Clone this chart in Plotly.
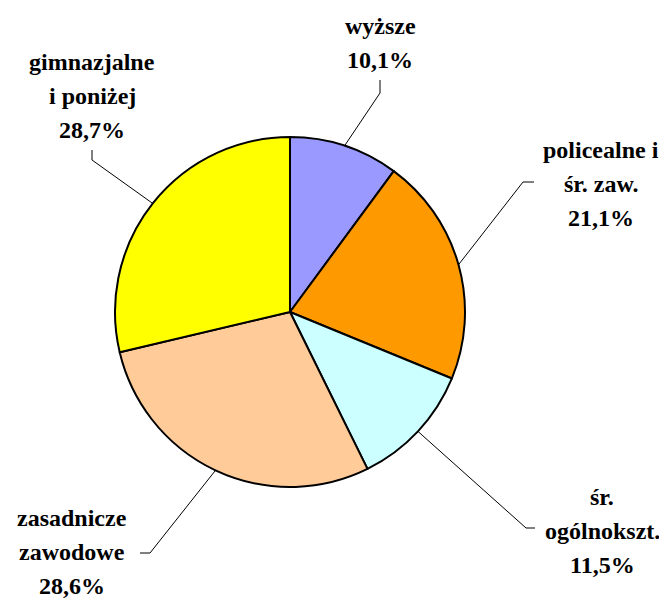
import math
import plotly.graph_objects as go

# Data
categories = ["wyższe", "policealne i śr. zaw.", "śr. ogólnokszt.", "zasadnicze zawodowe", "gimnazjalne i poniżej"]
values = [10.1, 21.1, 11.5, 28.6, 28.7]
label_lines = [
    ["wyższe"],
    ["policealne i", "śr. zaw."],
    ["śr.", "ogólnokszt."],
    ["zasadnicze", "zawodowe"],
    ["gimnazjalne", "i poniżej"],
]
colors = ["#9999FF", "#FF9900", "#CCFFFF", "#FFCC99", "#FFFF00"]

# The page body has an 8px margin; work in window pixels and convert.
OFF = 8
W, H = 667 - OFF, 599 - OFF
CX, CY, R = 290, 312, 175

def px(x):
    return (x - OFF) / W

def py(y):
    return 1 - (y - OFF) / H

# Layout: label anchor (center x, first-line y), elbow point, leader end point
label_pos = [(380, 26), (601, 150), (602, 497), (72, 518), (92, 62)]
elbows = [(380, 93), (523, 182), (526, 528), (150, 553), (92, 160)]
ends = [(380, 80), (534, 182), (535, 528), (140, 553), (92, 150)]
LINE_H = 34
FONT = "Liberation Serif"

fig = go.Figure()
fig.add_trace(go.Pie(
    labels=categories,
    values=values,
    sort=False,
    direction="clockwise",
    rotation=0,
    marker=dict(colors=colors, line=dict(color="black", width=2)),
    textinfo="none",
    hoverinfo="label+percent",
    showlegend=False,
    domain=dict(x=[px(CX - R), px(CX + R)], y=[py(CY + R), py(CY - R)]),
))

total = sum(values)
cum = 0.0
annotations = []
shapes = []
for i, v in enumerate(values):
    mid = (cum + v / 2) / total
    cum += v
    ang = math.radians(90 - 360 * mid)
    sx = CX + R * math.cos(ang)
    sy = CY - R * math.sin(ang)
    ex, ey = elbows[i]
    fx, fy = ends[i]
    shapes.append(dict(type="path", xref="paper", yref="paper",
                       path=f"M {px(sx)} {py(sy)} L {px(ex)} {py(ey)} L {px(fx)} {py(fy)}",
                       line=dict(color="black", width=1)))
    pct = f"{v:.1f}".replace(".", ",") + "%"
    lines = label_lines[i] + [pct]
    lx, ly = label_pos[i]
    for j, t in enumerate(lines):
        annotations.append(dict(x=px(lx), y=py(ly + j * LINE_H), xref="paper", yref="paper",
                                text=f"<b>{t}</b>", showarrow=False,
                                xanchor="center", yanchor="middle",
                                font=dict(family=FONT, size=24, color="black")))

fig.update_layout(
    width=W, height=H,
    margin=dict(l=0, r=0, t=0, b=0),
    paper_bgcolor="white",
    plot_bgcolor="white",
    annotations=annotations,
    shapes=shapes,
)

fig.write_html("out.html")
